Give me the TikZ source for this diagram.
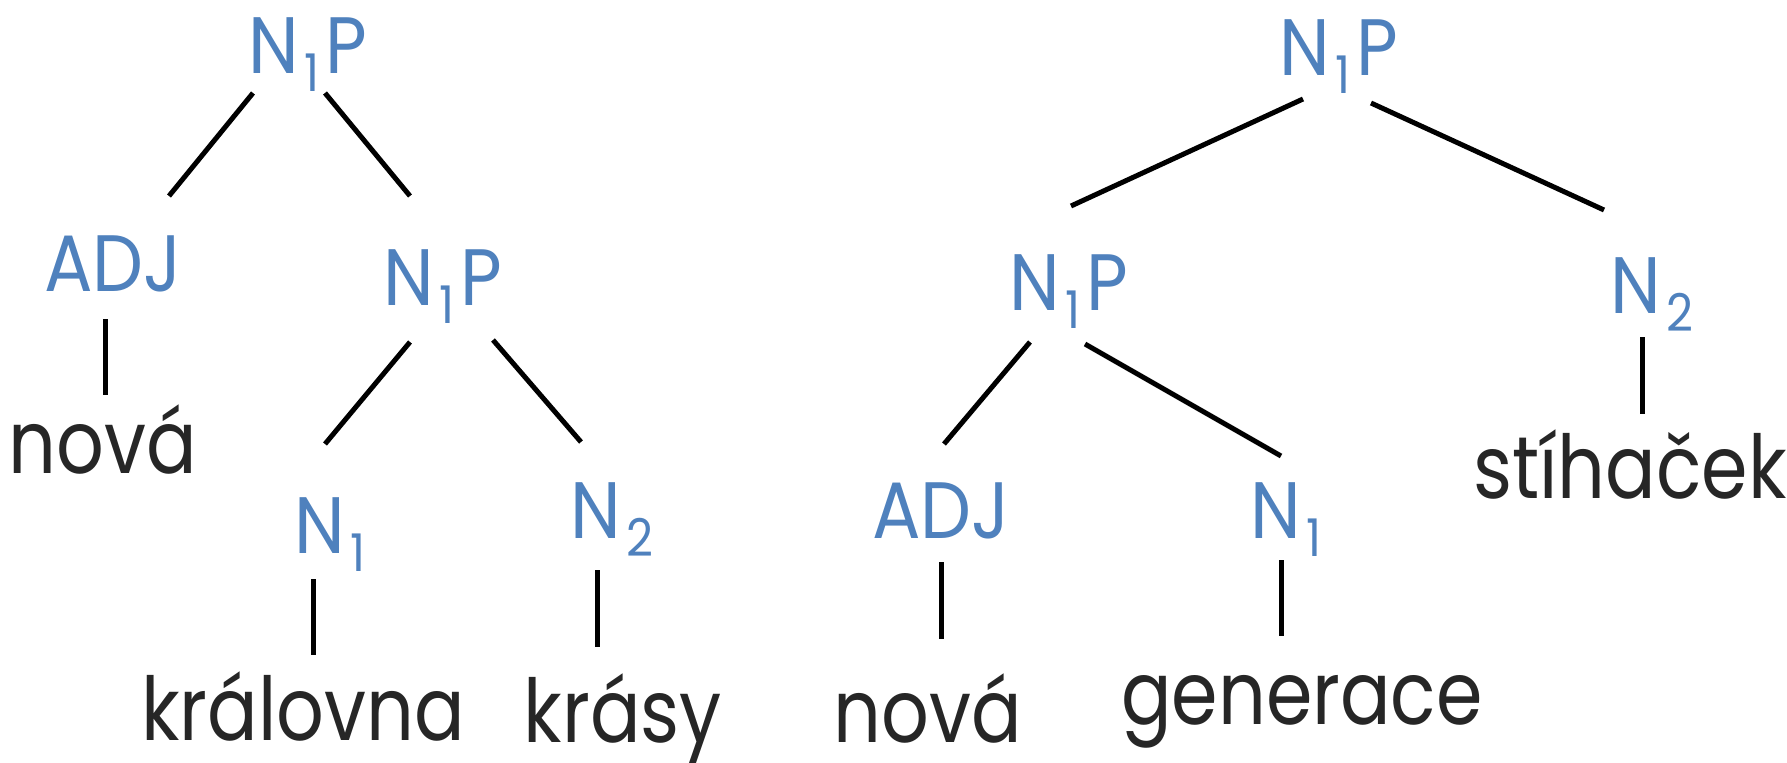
\documentclass[tikz,border=0pt]{standalone}
\usepackage{fontspec}
\setmainfont{Poppins}[FakeStretch=0.85]
\newfontfamily\catfont{Poppins}[FakeStretch=0.9]
\definecolor{catblue}{RGB}{79,129,189}
\definecolor{wordgray}{RGB}{38,38,38}
\newcommand{\ix}[1]{\kern3pt\raisebox{-9pt}{\fontsize{26}{26}\selectfont #1}\kern3pt}

\tikzset{
  cat/.style={text=catblue,font=\catfont\fontsize{40}{40}\selectfont,anchor=base,inner sep=0pt},
  word/.style={text=wordgray,font=\fontsize{44}{44}\selectfont,anchor=base,inner sep=0pt},
  link/.style={line width=2.5pt}
}

\begin{document}
\begin{tikzpicture}[x=0.5pt,y=0.5pt]
\useasboundingbox (0,0) rectangle (1787,762);
% left tree
\node (rootL) at (308,688) [cat] {N\ix{1}P};
\node (adjL) at (113,471) [cat] {ADJ};
\node (npL) at (443,457) [cat] {N\ix{1}P};
\node (novaL) at (103,289) [word] {nová};
\node (n1L) at (333,209) [cat] {N\ix{1}};
\node (n2L) at (615,224) [cat] {N\ix{2}};
\node (kralovna) at (303,22) [word] {královna};
\node (krasy) at (623,20) [word] {krásy};

\draw [link] ([shift={(-55,-19)}]rootL.base) -- ([shift={(56,95)}]adjL.base);
\draw [link] ([shift={(17,-19)}]rootL.base) -- ([shift={(-33,109)}]npL.base);
\draw [link] ([shift={(-8,-28)}]adjL.base) -- ([shift={(2,78)}]novaL.base);
\draw [link] ([shift={(-33,-37)}]npL.base) -- ([shift={(-8,109)}]n1L.base);
\draw [link] ([shift={(50,-35)}]npL.base) -- ([shift={(-34,96)}]n2L.base);
\draw [link] ([shift={(-20,-26)}]n1L.base) -- ([shift={(10,85)}]kralovna.base);
\draw [link] ([shift={(-18,-32)}]n2L.base) -- ([shift={(-26,95)}]krasy.base);

% right tree
\node (rootR) at (1339,686) [cat] {N\ix{1}P};
\node (npR) at (1069,452) [cat] {N\ix{1}P};
\node (n2R) at (1655,449) [cat] {N\ix{2}};
\node (stihacek) at (1630,264) [word] {stíhaček};
\node (adjR) at (941,224) [cat] {ADJ};
\node (n1R) at (1289,224) [cat] {N\ix{1}};
\node (novaR) at (928,20) [word] {nová};
\node (generace) at (1302,38) [word] {generace};

\draw [link] ([shift={(-36,-23)}]rootR.base) -- ([shift={(2,104)}]npR.base);
\draw [link] ([shift={(32,-27)}]rootR.base) -- ([shift={(-51,103)}]n2R.base);
\draw [link] ([shift={(-39,-32)}]npR.base) -- ([shift={(3,94)}]adjR.base);
\draw [link] ([shift={(16,-34)}]npR.base) -- ([shift={(-8,82)}]n1R.base);
\draw [link] ([shift={(-13,-24)}]n2R.base) -- ([shift={(12,84)}]stihacek.base);
\draw [link] ([shift={(0,-24)}]adjR.base) -- ([shift={(13,103)}]novaR.base);
\draw [link] ([shift={(-8,-22)}]n1R.base) -- ([shift={(-21,88)}]generace.base);
\end{tikzpicture}
\end{document}
